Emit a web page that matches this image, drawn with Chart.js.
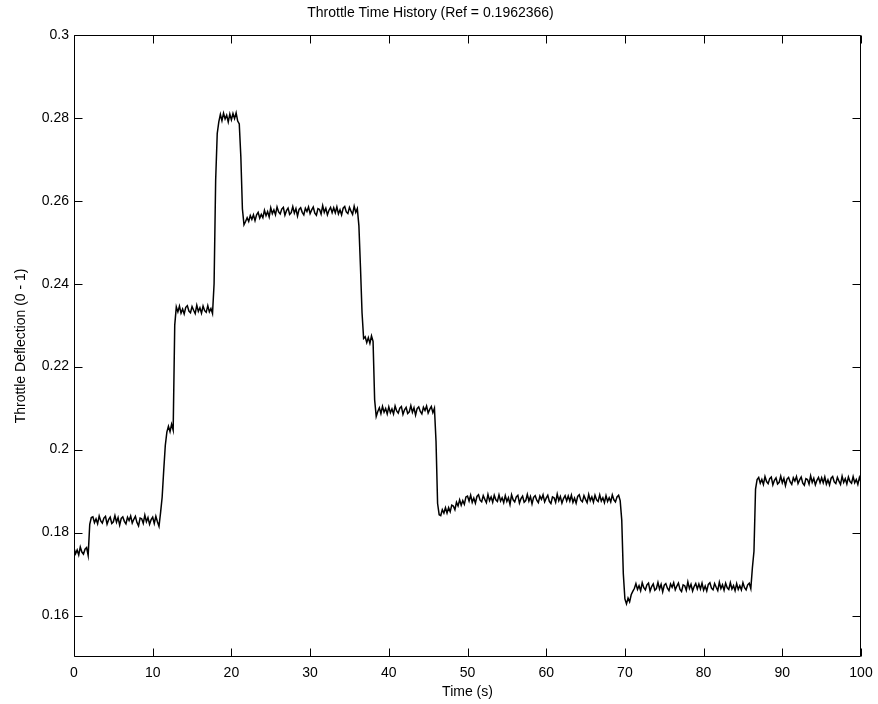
<!DOCTYPE html>
<html>
<head>
<meta charset="utf-8">
<script src="https://cdn.jsdelivr.net/npm/chart.js@4/dist/chart.umd.min.js"></script>
<style>
  body { margin: 0; background: #fff; }
  #wrap { width: 878px; height: 704px; }
</style>
</head>
<body>
<div id="wrap"><canvas id="throttleChart" width="878" height="704"></canvas></div>
<script>
// sampled every 0.2 s, one block of 50 per 10 s
const sampleTime = 0.2;
const throttle = [
  0.1763, 0.1749, 0.1758, 0.1746, 0.1765, 0.1753, 0.1748, 0.1760, 0.1764, 0.1745,
  0.1820, 0.1836, 0.1838, 0.1824, 0.1833, 0.1821, 0.1840, 0.1828, 0.1823, 0.1835,
  0.1839, 0.1820, 0.1831, 0.1837, 0.1822, 0.1826, 0.1841, 0.1825, 0.1836, 0.1818,
  0.1834, 0.1838, 0.1827, 0.1821, 0.1837, 0.1829, 0.1840, 0.1823, 0.1832, 0.1839,
  0.1824, 0.1816, 0.1835, 0.1833, 0.1822, 0.1842, 0.1826, 0.1836, 0.1820, 0.1831,
  // 10 s
  0.1837, 0.1822, 0.1839, 0.1826, 0.1815, 0.1848, 0.1885, 0.1950, 0.2010, 0.2042,
  0.2056, 0.2043, 0.2061, 0.2047, 0.2300, 0.2344, 0.2332, 0.2346, 0.2329, 0.2339,
  0.2327, 0.2343, 0.2347, 0.2334, 0.2330, 0.2345, 0.2336, 0.2328, 0.2348, 0.2333,
  0.2342, 0.2329, 0.2346, 0.2335, 0.2331, 0.2347, 0.2332, 0.2340, 0.2328, 0.2400,
  0.2650, 0.2762, 0.2790, 0.2808, 0.2793, 0.2811, 0.2797, 0.2806, 0.2790, 0.2809,
  // 20 s
  0.2795, 0.2810, 0.2798, 0.2812, 0.2792, 0.2785, 0.2706, 0.2580, 0.2542, 0.2550,
  0.2559, 0.2550, 0.2564, 0.2555, 0.2566, 0.2552, 0.2566, 0.2572, 0.2558, 0.2567,
  0.2559, 0.2577, 0.2564, 0.2574, 0.2561, 0.2583, 0.2569, 0.2578, 0.2566, 0.2585,
  0.2573, 0.2568, 0.2580, 0.2584, 0.2565, 0.2576, 0.2582, 0.2567, 0.2571, 0.2586,
  0.2570, 0.2581, 0.2563, 0.2579, 0.2583, 0.2572, 0.2566, 0.2582, 0.2574, 0.2585,
  // 30 s
  0.2569, 0.2578, 0.2585, 0.2570, 0.2565, 0.2581, 0.2579, 0.2568, 0.2588, 0.2572,
  0.2582, 0.2566, 0.2577, 0.2584, 0.2571, 0.2583, 0.2571, 0.2585, 0.2568, 0.2578,
  0.2566, 0.2582, 0.2586, 0.2573, 0.2569, 0.2584, 0.2575, 0.2567, 0.2587, 0.2572,
  0.2581, 0.2540, 0.2440, 0.2330, 0.2268, 0.2272, 0.2258, 0.2270, 0.2256, 0.2274,
  0.2261, 0.2120, 0.2080, 0.2092, 0.2101, 0.2087, 0.2104, 0.2090, 0.2099, 0.2086,
  // 40 s
  0.2103, 0.2089, 0.2098, 0.2086, 0.2105, 0.2093, 0.2088, 0.2100, 0.2104, 0.2085,
  0.2096, 0.2102, 0.2087, 0.2091, 0.2106, 0.2090, 0.2101, 0.2083, 0.2099, 0.2103,
  0.2092, 0.2086, 0.2102, 0.2094, 0.2105, 0.2088, 0.2097, 0.2104, 0.2089, 0.2100,
  0.2020, 0.1870, 0.1843, 0.1841, 0.1855, 0.1847, 0.1860, 0.1847, 0.1860, 0.1850,
  0.1866, 0.1864, 0.1855, 0.1873, 0.1864, 0.1879, 0.1866, 0.1877, 0.1868, 0.1886,
  // 50 s
  0.1888, 0.1876, 0.1890, 0.1873, 0.1883, 0.1871, 0.1887, 0.1891, 0.1878, 0.1874,
  0.1889, 0.1880, 0.1872, 0.1892, 0.1877, 0.1886, 0.1873, 0.1890, 0.1879, 0.1875,
  0.1891, 0.1876, 0.1884, 0.1872, 0.1889, 0.1875, 0.1884, 0.1868, 0.1891, 0.1879,
  0.1874, 0.1886, 0.1890, 0.1871, 0.1882, 0.1888, 0.1873, 0.1877, 0.1892, 0.1876,
  0.1887, 0.1869, 0.1885, 0.1889, 0.1878, 0.1872, 0.1888, 0.1880, 0.1891, 0.1874,
  // 60 s
  0.1883, 0.1890, 0.1875, 0.1870, 0.1886, 0.1884, 0.1873, 0.1893, 0.1877, 0.1887,
  0.1871, 0.1882, 0.1889, 0.1876, 0.1888, 0.1876, 0.1890, 0.1873, 0.1883, 0.1871,
  0.1887, 0.1891, 0.1878, 0.1874, 0.1889, 0.1880, 0.1872, 0.1892, 0.1877, 0.1886,
  0.1873, 0.1890, 0.1879, 0.1875, 0.1891, 0.1876, 0.1884, 0.1872, 0.1889, 0.1875,
  0.1884, 0.1874, 0.1891, 0.1879, 0.1874, 0.1886, 0.1890, 0.1877, 0.1830, 0.1700,
  // 70 s
  0.1640, 0.1628, 0.1642, 0.1633, 0.1650, 0.1658, 0.1665, 0.1677, 0.1663, 0.1672,
  0.1660, 0.1679, 0.1667, 0.1662, 0.1674, 0.1678, 0.1659, 0.1670, 0.1676, 0.1661,
  0.1665, 0.1680, 0.1664, 0.1675, 0.1657, 0.1673, 0.1677, 0.1666, 0.1660, 0.1676,
  0.1668, 0.1679, 0.1662, 0.1671, 0.1678, 0.1663, 0.1658, 0.1674, 0.1672, 0.1661,
  0.1681, 0.1665, 0.1675, 0.1659, 0.1670, 0.1677, 0.1664, 0.1676, 0.1664, 0.1678,
  // 80 s
  0.1661, 0.1671, 0.1659, 0.1675, 0.1679, 0.1666, 0.1662, 0.1677, 0.1668, 0.1660,
  0.1680, 0.1665, 0.1674, 0.1661, 0.1678, 0.1667, 0.1663, 0.1679, 0.1664, 0.1672,
  0.1660, 0.1677, 0.1663, 0.1672, 0.1662, 0.1679, 0.1667, 0.1662, 0.1674, 0.1678,
  0.1665, 0.1715, 0.1755, 0.1905, 0.1928, 0.1933, 0.1919, 0.1928, 0.1916, 0.1935,
  0.1923, 0.1918, 0.1930, 0.1934, 0.1915, 0.1926, 0.1932, 0.1917, 0.1921, 0.1936,
  // 90 s
  0.1920, 0.1931, 0.1913, 0.1929, 0.1933, 0.1922, 0.1916, 0.1932, 0.1924, 0.1935,
  0.1918, 0.1927, 0.1934, 0.1919, 0.1914, 0.1930, 0.1928, 0.1917, 0.1937, 0.1921,
  0.1931, 0.1915, 0.1926, 0.1933, 0.1920, 0.1932, 0.1920, 0.1934, 0.1917, 0.1927,
  0.1915, 0.1931, 0.1935, 0.1922, 0.1918, 0.1933, 0.1924, 0.1916, 0.1936, 0.1921,
  0.1930, 0.1917, 0.1934, 0.1923, 0.1919, 0.1935, 0.1920, 0.1928, 0.1916, 0.1933,
  0.1922
];

const xTicks = [0, 10, 20, 30, 40, 50, 60, 70, 80, 90, 100];
const yTicks = [0.16, 0.18, 0.2, 0.22, 0.24, 0.26, 0.28, 0.3];

const font = 'Liberation Sans, Arial, Helvetica, sans-serif';
const tickLen = 8;

// matlab style box with inward ticks on all sides
const boxTicks = {
    id: 'boxTicks',
    afterDraw(chart) {
        const { ctx, chartArea: a, scales: { x, y } } = chart;
        const l = Math.round(a.left) + 0.5, r = Math.round(a.right) - 0.5;
        const t = Math.round(a.top) + 0.5, b = Math.round(a.bottom) - 0.5;
        ctx.save();
        ctx.strokeStyle = '#000';
        ctx.lineWidth = 1;
        ctx.beginPath();
        ctx.rect(l, t, r - l, b - t);
        xTicks.forEach(v => {
            const px = Math.round(x.getPixelForValue(v)) + 0.5;
            ctx.moveTo(px, b); ctx.lineTo(px, b - tickLen);
            ctx.moveTo(px, t); ctx.lineTo(px, t + tickLen);
        });
        yTicks.forEach(v => {
            const py = Math.round(y.getPixelForValue(v)) + 0.5;
            ctx.moveTo(l, py); ctx.lineTo(l + tickLen, py);
            ctx.moveTo(r, py); ctx.lineTo(r - tickLen, py);
        });
        ctx.stroke();
        ctx.restore();
    }
};

new Chart(document.getElementById('throttleChart'), {
    type: 'line',
    data: {
        datasets: [{
            data: throttle.map((v, i) => ({ x: i * sampleTime, y: v })),
            borderColor: '#000',
            borderWidth: 1.5,
            pointRadius: 0,
            tension: 0,
            fill: false
        }]
    },
    options: {
        responsive: false,
        animation: false,
        layout: { padding: { left: 0, right: 17, top: 0, bottom: 0 } },
        plugins: {
            legend: { display: false },
            tooltip: { enabled: false },
            title: {
                display: true,
                text: 'Throttle Time History (Ref = 0.1962366)',
                color: '#000',
                font: { family: font, size: 14, weight: 'normal' },
                padding: { top: 5, bottom: 13 }
            }
        },
        scales: {
            x: {
                type: 'linear',
                min: 0,
                max: 100,
                afterBuildTicks: s => { s.ticks = xTicks.map(v => ({ value: v })); },
                afterFit: s => { s.height = 47; s.paddingLeft = 0; s.paddingRight = 0; },
                grid: { display: false, drawTicks: false },
                border: { display: false },
                ticks: { color: '#000', padding: 8, font: { family: font, size: 14 } },
                title: {
                    display: true,
                    text: 'Time (s)',
                    color: '#000',
                    font: { family: font, size: 14 },
                    padding: { top: 4, bottom: 3 }
                }
            },
            y: {
                min: 0.15,
                max: 0.3,
                afterBuildTicks: s => { s.ticks = yTicks.map(v => ({ value: v })); },
                afterFit: s => { s.width = 74; },
                grid: { display: false, drawTicks: false },
                border: { display: false },
                ticks: {
                    color: '#000',
                    padding: 5,
                    font: { family: font, size: 14 },
                    callback: v => String(+v.toFixed(2))
                },
                title: {
                    display: true,
                    text: 'Throttle Deflection (0 - 1)',
                    color: '#000',
                    font: { family: font, size: 14 },
                    padding: { top: 13, bottom: 0 }
                }
            }
        }
    },
    plugins: [boxTicks]
});
</script>
</body>
</html>
